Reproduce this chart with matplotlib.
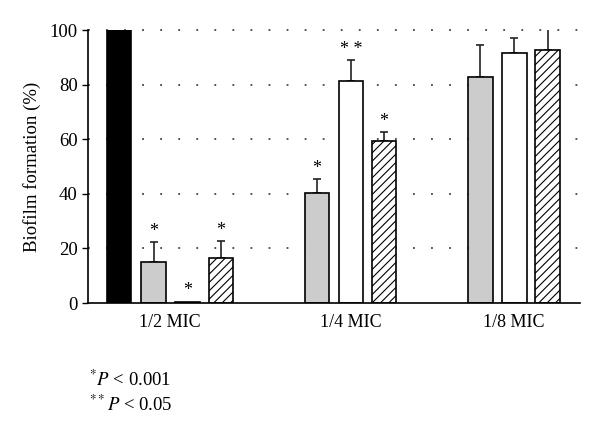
import numpy as np
import matplotlib
matplotlib.use('Agg')
import matplotlib.pyplot as plt

plt.rcParams['font.family'] = 'Liberation Serif'
plt.rcParams['mathtext.fontset'] = 'stix'
plt.rcParams['hatch.linewidth'] = 0.8

# ---------------------------------------------------------------------------
# Data
# ---------------------------------------------------------------------------
groups = ['1/2 MIC', '1/4 MIC', '1/8 MIC']
control = [100.0]                      # only at 1/2 MIC
gray_vals = [15.1, 40.4, 82.7]
gray_err = [7.3, 4.9, 11.8]
white_vals = [0.5, 81.2, 91.5]
white_err = [0.0, 7.9, 5.7]
hatch_vals = [16.6, 59.3, 92.8]
hatch_err = [6.2, 3.3, 8.0]
gray_sig = ['*', '*', '']
white_sig = ['*', '**', '']
hatch_sig = ['*', '*', '']

# ---------------------------------------------------------------------------
# Layout
# ---------------------------------------------------------------------------
group_step = 4.85
base = np.arange(len(groups)) * group_step
width = 0.72
x_ctrl = base[0] + 0.92
x_gray = base + 1.94
x_white = base + 2.95
x_hatch = base + 3.93

fig = plt.figure(figsize=(6.0, 4.37), dpi=100)
ax = fig.add_axes([0.147, 0.3066, 0.82, 0.6244])

for y in [20, 40, 60, 80, 100]:
    ax.axhline(y, color='#444444', linestyle=(0, (1, 9)), linewidth=1.3,
               zorder=0, clip_on=False)

ekw = dict(elinewidth=1.2, capsize=3, capthick=1.2, ecolor='#222222')


def draw(xs, vals, errs, face, hatch=None):
    lower = np.zeros(len(vals))
    ax.bar(xs, vals, width, color=face, edgecolor='black', linewidth=1.2,
           hatch=hatch, zorder=2)
    mask = np.array(errs) > 0
    ax.errorbar(np.array(xs)[mask], np.array(vals)[mask],
                yerr=[lower[mask], np.array(errs)[mask]], fmt='none',
                zorder=1, **ekw)


ax.bar([x_ctrl], control, width, color='black', edgecolor='black',
       linewidth=1.2, zorder=2)
draw(x_gray, gray_vals, gray_err, '#cccccc')
draw(x_white, white_vals, white_err, 'white')
draw(x_hatch, hatch_vals, hatch_err, 'white', hatch='////')

for xs, vals, errs, sigs in [(x_gray, gray_vals, gray_err, gray_sig),
                             (x_white, white_vals, white_err, white_sig),
                             (x_hatch, hatch_vals, hatch_err, hatch_sig)]:
    for x, v, e, s in zip(xs, vals, errs, sigs):
        if s:
            ax.text(x, v + e + 0.8, ' '.join(s) if len(s) > 1 else s,
                    ha='center', va='bottom', fontsize=13)

ax.set_xlim(0, 14.6)
ax.set_ylim(0, 100)
ax.set_yticks([0, 20, 40, 60, 80, 100])
ax.tick_params(axis='y', labelsize=13.5, direction='out', length=4, width=1)
label_x = [(x_ctrl + x_hatch[0]) / 2, (x_gray[1] + x_hatch[1]) / 2,
           (x_gray[2] + x_hatch[2]) / 2]
ax.set_xticks(label_x)
ax.set_xticklabels(groups, fontsize=13)
ax.tick_params(axis='x', length=0, pad=8)
ax.set_ylabel('Biofilm formation (%)', fontsize=13.5, labelpad=6)
for side in ['top', 'right']:
    ax.spines[side].set_visible(False)
ax.spines['left'].set_linewidth(1.2)
ax.spines['bottom'].set_linewidth(1.2)

fig.text(0.148, 0.13, r'$^{*}\mathit{P}$ < 0.001', fontsize=13.5, va='center')
fig.text(0.148, 0.073, r'$^{**}\mathit{P}$ < 0.05', fontsize=13.5, va='center')

fig.savefig('out.png', dpi=100)
